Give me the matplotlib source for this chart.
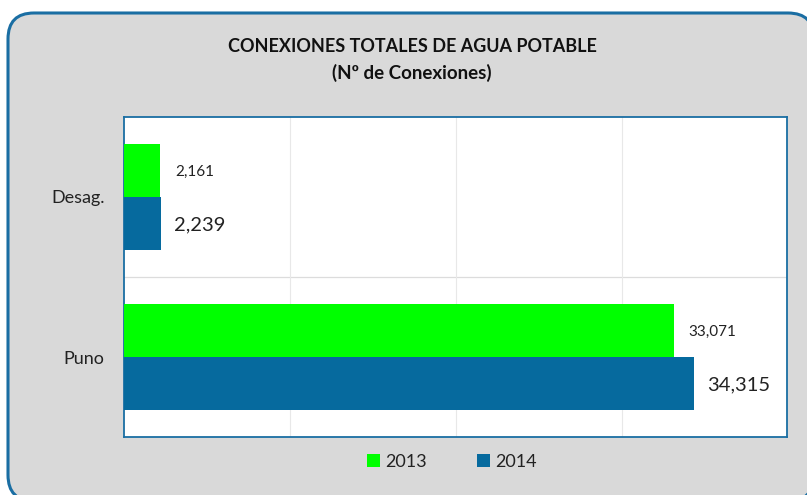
import matplotlib
matplotlib.use('Agg')
import matplotlib.pyplot as plt
from matplotlib.patches import FancyBboxPatch

plt.rcParams['font.family'] = ['Lato', 'DejaVu Sans']

categories = ['Puno', 'Desag.']
years      = ['2013', '2014']
vals_2013  = [33071, 2161]
vals_2014  = [34315, 2239]
labels_2013 = ['33,071', '2,161']
labels_2014 = ['34,315', '2,239']

green  = '#00ff00'
blue   = '#066a9e'
border = '#1a6ea3'
grey   = '#d9d9d9'


def main():
    fig = plt.figure(figsize=(8.07, 4.95), dpi=100)
    fig.patch.set_facecolor('white')

    # rounded outer frame, in pixel coords
    box = FancyBboxPatch((8, -6), 806, 488, boxstyle='round,pad=0,rounding_size=26',
                         transform=None, facecolor=grey, edgecolor=border, linewidth=2.2, zorder=-5)
    fig.patches.append(box)

    ax = fig.add_axes([124 / 807, 1 - 437 / 495, (787 - 124) / 807, (437 - 117) / 495])
    ax.set_zorder(2)
    ax.set_facecolor('white')

    h = 0.33
    y = list(range(len(categories)))
    y13 = [v + h / 2 for v in y]
    y14 = [v - h / 2 for v in y]
    ax.barh(y13, vals_2013, height=h, color=green, label=years[0], zorder=3)
    ax.barh(y14, vals_2014, height=h, color=blue, label=years[1], zorder=3)

    for yy, v, lab in zip(y13, vals_2013, labels_2013):
        ax.annotate(lab, (v, yy), xytext=(11, -1), textcoords='offset points',
                    va='center', ha='left', fontsize=11, color='#222222')
    for yy, v, lab in zip(y14, vals_2014, labels_2014):
        ax.annotate(lab, (v, yy), xytext=(9, -1), textcoords='offset points',
                    va='center', ha='left', fontsize=14.5, color='#222222')

    ax.set_xlim(0, 39900)
    ax.set_ylim(-0.5, 1.5)
    ax.set_xticks([10000, 20000, 30000])
    ax.set_xticklabels([])
    ax.set_yticks(y)
    ax.set_yticklabels(categories, fontsize=13, color='#222222')
    ax.tick_params(axis='both', length=0, pad=14)
    ax.grid(axis='x', color='#e8e8e8', linewidth=0.8, zorder=0)
    ax.axhline(0.5, color='#dcdcdc', linewidth=0.9, zorder=1)
    for s in ax.spines.values():
        s.set_color(border)
        s.set_linewidth(1.3)

    fig.text(412 / 807, 1 - 47 / 495, 'CONEXIONES TOTALES DE AGUA POTABLE', ha='center', va='center',
             fontsize=13, fontweight='bold', color='#111111')
    fig.text(412 / 807, 1 - 73 / 495, '(Nº de Conexiones)', ha='center', va='center',
             fontsize=13.5, fontweight='bold', color='#111111')

    leg = fig.legend(loc='center', bbox_to_anchor=(452 / 807, 1 - 462 / 495), ncol=2, frameon=False,
                     fontsize=13, handlelength=0.7, handleheight=0.7, handletextpad=0.3, columnspacing=2.8)
    for t in leg.get_texts():
        t.set_color('#222222')

    fig.savefig('out.png', dpi=100)


if __name__ == '__main__':
    main()
